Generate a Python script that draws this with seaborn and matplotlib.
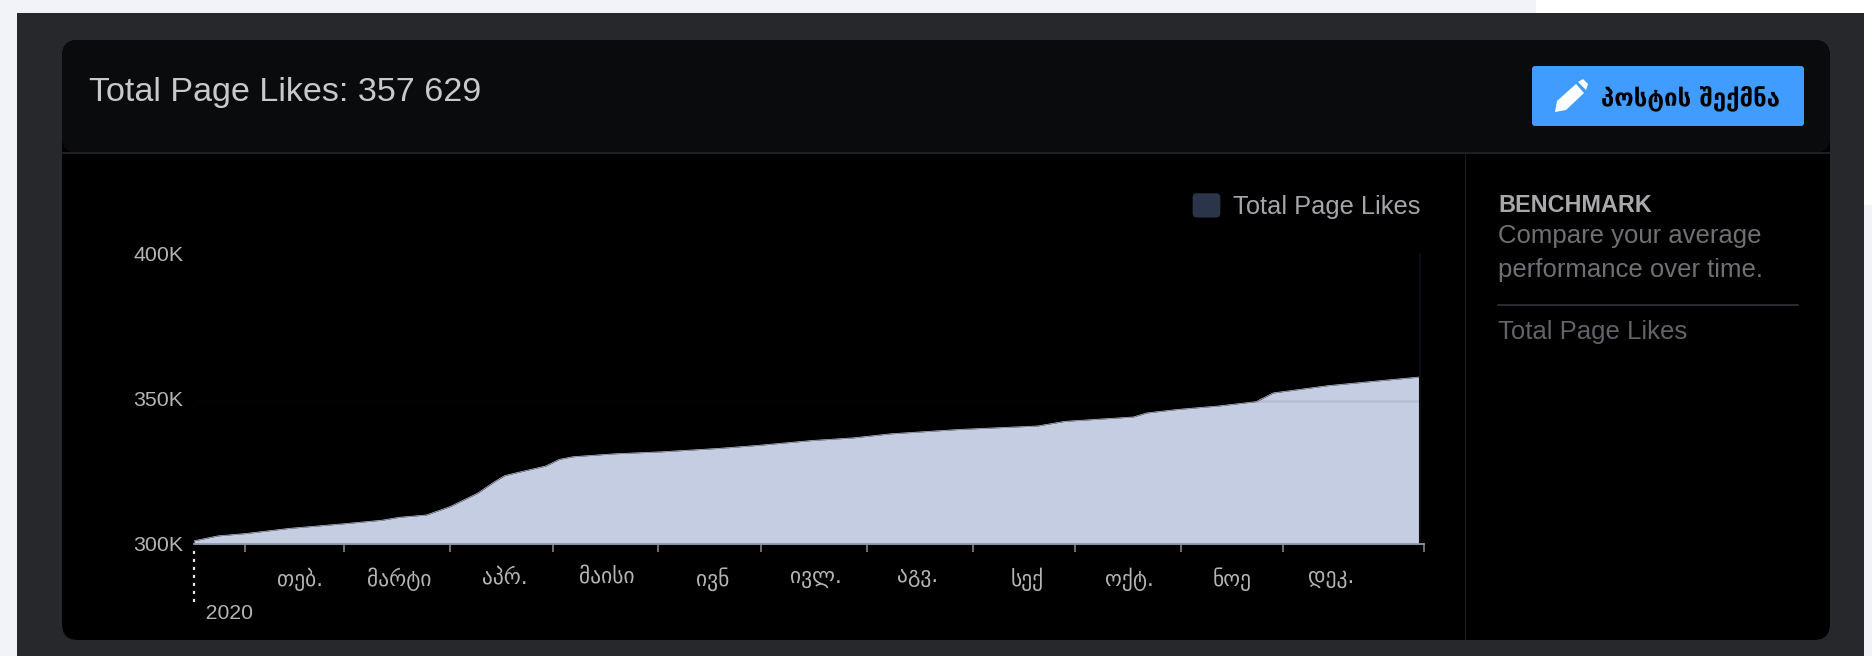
import pandas as pd
import seaborn as sns
import matplotlib.pyplot as plt
from matplotlib.legend_handler import HandlerPatch
from matplotlib.patches import FancyBboxPatch, Rectangle, Polygon, Patch
from matplotlib.transforms import ScaledTranslation

# values
dates = ['2020-01-17', '2020-01-24', '2020-02-01', '2020-02-14', '2020-03-01', '2020-03-12',
         '2020-03-17', '2020-03-25', '2020-04-01', '2020-04-09', '2020-04-14', '2020-04-17',
         '2020-04-22', '2020-04-29', '2020-05-03', '2020-05-07', '2020-05-19', '2020-06-02',
         '2020-06-19', '2020-07-01', '2020-07-16', '2020-07-28', '2020-08-08', '2020-08-28',
         '2020-09-20', '2020-09-28', '2020-10-18', '2020-10-22', '2020-10-31', '2020-11-12',
         '2020-11-23', '2020-11-28', '2020-12-14', '2020-12-30', '2021-01-10']
likes = [301.1, 302.8, 303.6, 305.4, 307.0, 308.2,
         309.2, 310.0, 312.9, 317.5, 321.5, 323.6,
         325.0, 326.9, 329.2, 330.1, 331.1, 331.8,
         333.0, 334.1, 335.7, 336.6, 338.0, 339.5,
         340.7, 342.3, 343.8, 345.2, 346.4, 347.6,
         349.1, 352.1, 354.6, 356.4, 357.6]
month_starts = ['2020-02-01', '2020-03-01', '2020-04-01', '2020-05-01', '2020-06-01', '2020-07-01',
                '2020-08-01', '2020-09-01', '2020-10-01', '2020-11-01', '2020-12-01', '2021-01-11']
month_mids = ['2020-02-17', '2020-03-17', '2020-04-17', '2020-05-17', '2020-06-17', '2020-07-17',
              '2020-08-16', '2020-09-17', '2020-10-17', '2020-11-16', '2020-12-15']
month_labels = ['თებ.', 'მარტი', 'აპრ.', 'მაისი', 'ივნ', 'ივლ.', 'აგვ.', 'სექ', 'ოქტ.', 'ნოე', 'დეკ.']
y_ticks = [300, 350, 400]
y_labels = ['300K', '350K', '400K']

W, H = 1872, 656


class RoundHandle(HandlerPatch):
    '''Legend swatch with rounded corners'''
    def create_artists(self, legend, orig_handle, xd, yd, width, height, fontsize, trans):
        box = FancyBboxPatch((-xd, -yd), width, height, boxstyle='round,pad=0,rounding_size=3',
                             fc=orig_handle.get_facecolor(), lw=0, transform=trans)
        return [box]


sns.set_theme(style='dark')
plt.rcParams['font.family'] = ['Liberation Sans', 'DejaVu Sans']

df = pd.DataFrame({'date': pd.to_datetime(dates), 'likes': likes})

fig = plt.figure(figsize=(W / 100, H / 100), dpi=100, facecolor='#f1f3f8')

# page furniture, in pixel coordinates
bg = fig.add_axes([0, 0, 1, 1])
bg.set_xlim(0, W)
bg.set_ylim(H, 0)
bg.axis('off')
bg.add_patch(Rectangle((1536, 0), W - 1536, 13, color='white', lw=0))
bg.add_patch(Rectangle((1864, 13), 8, 192, color='white', lw=0))
bg.add_patch(Polygon([(1864, 205), (1872, 197), (1872, 205)], color='white', lw=0))
bg.add_patch(Rectangle((17, 13), 1847, H, color='#26282b', lw=0))
card = dict(boxstyle='round,pad=0,rounding_size=16', lw=0)
bg.add_patch(FancyBboxPatch((62, 40), 1768, 600, fc='black', **card))
header = FancyBboxPatch((62, 40), 1768, 113, fc='#0a0b0d', **card)
bg.add_patch(header)
header.set_clip_path(Rectangle((62, 40), 1768, 113, transform=bg.transData))
bg.add_patch(Rectangle((62, 152), 1768, 2, color='#1e1f22', lw=0))
bg.add_patch(Rectangle((1464.5, 153), 1.5, 487, color='#1a1b1d', lw=0))
bg.add_patch(FancyBboxPatch((1532, 66), 272, 60, fc='#409cff',
                            boxstyle='round,pad=0,rounding_size=3', lw=0))
# pencil icon
bg.add_patch(Polygon([(1555, 112), (1557, 101), (1576, 84), (1584, 93), (1566, 110)], color='white', lw=0))
bg.add_patch(Polygon([(1578, 82), (1583, 79), (1588, 84), (1586, 90)], color='white', lw=0))
bg.plot([1498, 1798], [305, 305], color='#2f3033', lw=1.3)

bg.text(89, 92, 'Total Page Likes: 357 629', color='#c8c9cb', fontsize=24.6, va='center')
bg.text(1690.5, 98, 'პოსტის შექმნა', color='black', fontsize=17.2, fontweight='bold',
        family='DejaVu Sans', ha='center', va='center')
bg.text(1498, 205, 'BENCHMARK', color='#a9a9ab', fontsize=16.8, fontweight='bold', va='center')
bg.text(1498, 236, 'Compare your average', color='#707074', fontsize=18.5, va='center')
bg.text(1498, 270, 'performance over time.', color='#707074', fontsize=18.5, va='center')
bg.text(1498, 332, 'Total Page Likes', color='#626367', fontsize=18.5, va='center')

# chart
ax = fig.add_axes([194 / W, 1 - 544 / H, 1229.5 / W, 290 / H], facecolor='none')
sns.lineplot(data=df, x='date', y='likes', color='#c4cde1', linewidth=0.5, ax=ax)
ax.fill_between(df['date'], df['likes'], 300, color='#c4cde1', lw=0)
ax.set_xlim(df['date'].iloc[0], pd.Timestamp(month_starts[-1]))
ax.set_ylim(300, 400)
ax.hlines(349.2, df['date'].iloc[0], df['date'].iloc[-1], color='#20242e', alpha=0.08, lw=2)
ax.vlines(df['date'].iloc[-1], 300, 400, color='#0a0c12', lw=1.5)
ax.set_xlabel('')
ax.set_ylabel('')

ax.set_yticks(y_ticks, y_labels)
ax.tick_params(axis='y', length=0, pad=7.6, labelsize=15.4, labelcolor='#b4b4b4')
for lab in ax.get_yticklabels():
    lab.set_transform(lab.get_transform() + ScaledTranslation(0, 0.7 / 72, fig.dpi_scale_trans))
ax.set_xticks(pd.to_datetime(month_starts), [''] * len(month_starts))
ax.set_xticks(pd.to_datetime(month_mids), month_labels, minor=True)
ax.tick_params(axis='x', which='major', bottom=True, length=5.5, width=1.1, color='#8f8f8f')
ax.tick_params(axis='x', which='minor', bottom=False, pad=13, labelsize=15.5, labelcolor='#b4b4b4')
for lab in ax.get_xticklabels(minor=True):
    lab.set_family('DejaVu Sans')

for side in ['top', 'left', 'right']:
    ax.spines[side].set_visible(False)
ax.spines['bottom'].set_color('#8f97a8')
ax.spines['bottom'].set_linewidth(1.3)
ax.grid(False)

# dotted year marker below the first point
ax.vlines(df['date'].iloc[0], -0.2, -0.02, transform=ax.get_xaxis_transform(), clip_on=False,
          color='#e4e4e4', lw=1.6, linestyles=(0, (1.4, 2.2)))
ax.text(df['date'].iloc[0], -0.24, '  2020', transform=ax.get_xaxis_transform(),
        color='#b4b4b4', fontsize=15.2, va='center')

swatch = Patch(facecolor='#2b3549', label='Total Page Likes')
ax.legend(handles=[swatch], handler_map={Patch: RoundHandle()}, loc='center right',
          bbox_to_anchor=(0.9975, 1.165), frameon=False, fontsize=18.3, labelcolor='#a5a6a9',
          handlelength=1.09, handleheight=1.09, handletextpad=0.5, borderaxespad=0, borderpad=0)

fig.savefig('out.png', dpi=100, facecolor=fig.get_facecolor())
